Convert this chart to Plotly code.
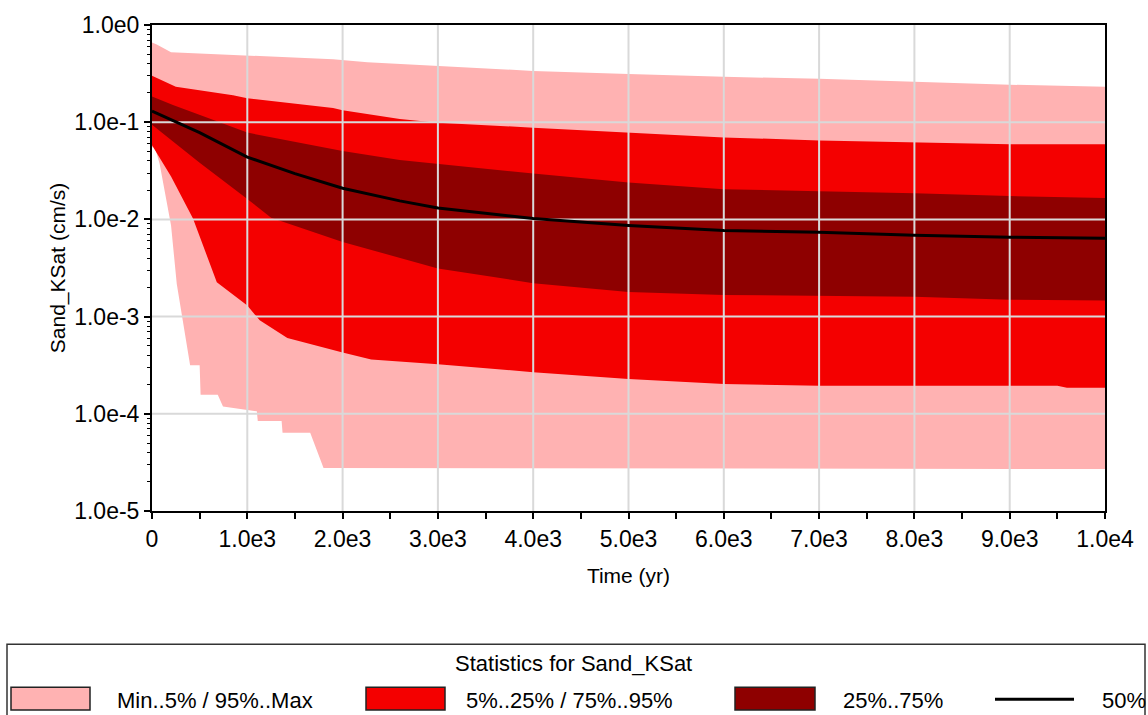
import numpy as np
import plotly.graph_objects as go

# ---------------- data ----------------
t_max = [0, 50, 200, 1100, 1900, 2260, 3000, 4000, 5000, 6000, 7000, 8000, 9000, 10000]
v_max = [0.659, 0.629, 0.523, 0.477, 0.445, 0.415, 0.378, 0.337, 0.314, 0.293, 0.280, 0.261, 0.243, 0.232]

t_p95 = [0, 250, 850, 1000, 1900, 2000, 2600, 3000, 4000, 5000, 6000, 7000, 8000, 9000, 10000]
v_p95 = [0.300, 0.232, 0.189, 0.176, 0.140, 0.133, 0.108, 0.0986, 0.0879, 0.0782, 0.0697, 0.0650, 0.0621, 0.0593, 0.0593]

t_p75 = [0, 220, 1000, 2000, 2600, 3000, 4000, 5000, 6000, 7000, 8000, 9000, 10000]
v_p75 = [0.184, 0.150, 0.0782, 0.0504, 0.0409, 0.0373, 0.0296, 0.0240, 0.0204, 0.0195, 0.0186, 0.0174, 0.0166]

t_p50 = [0, 500, 1000, 1500, 2000, 2600, 3000, 4000, 5000, 6000, 7000, 8000, 9000, 10000]
v_p50 = [0.130, 0.078, 0.0438, 0.0296, 0.0209, 0.0155, 0.0131, 0.0102, 0.00866, 0.00771, 0.00736, 0.00687, 0.00656, 0.00641]

t_p25 = [0, 500, 1000, 1250, 2000, 2600, 3000, 4000, 5000, 6000, 7000, 8000, 9000, 10000]
v_p25 = [0.094, 0.0382, 0.0162, 0.0104, 0.00585, 0.00400, 0.00313, 0.00221, 0.00179, 0.00167, 0.00163, 0.00160, 0.00149, 0.00146]

t_p5 = [0, 200, 430, 500, 680, 1000, 1130, 1420, 2000, 2300, 3000, 4000, 5000, 6000, 7000, 9500, 9600, 10000]
v_p5 = [0.0579, 0.0276, 0.0102, 0.00656, 0.00226, 0.00130, 0.000916, 0.000604, 0.000426, 0.000363,
        0.000323, 0.000268, 0.000228, 0.000203, 0.000194, 0.000194, 0.000185, 0.000185]

t_min = [0, 30, 80, 200, 260, 400, 500, 510, 690, 745, 1100, 1110, 1360, 1370, 1660, 1800, 10000]
v_min = [0.0553, 0.0553, 0.0373, 0.00867, 0.00216, 0.000315, 0.000315, 0.000157, 0.000157, 0.000119,
         0.000106, 8.43e-5, 8.43e-5, 6.38e-5, 6.38e-5, 2.77e-5, 2.70e-5]

x_tickvals = [0, 1000, 2000, 3000, 4000, 5000, 6000, 7000, 8000, 9000, 10000]
x_ticktext = ["0", "1.0e3", "2.0e3", "3.0e3", "4.0e3", "5.0e3", "6.0e3", "7.0e3", "8.0e3", "9.0e3", "1.0e4"]
y_tickvals = [1e-5, 1e-4, 1e-3, 1e-2, 1e-1, 1e0]
y_ticktext = ["1.0e-5", "1.0e-4", "1.0e-3", "1.0e-2", "1.0e-1", "1.0e0"]

legend_title = "Statistics for Sand_KSat"
legend_labels = ["Min..5% / 95%..Max", "5%..25% / 75%..95%", "25%..75%", "50%"]

# ---------------- styles ----------------
PINK = "#FFB2B2"
RED = "#F40000"
DARK = "#8E0000"
GRID = "#D9D9D9"
FONT = "Liberation Sans, Arial, sans-serif"
TICK_SIZE = 23
LEG_SIZE = 22
TITLE_SIZE = 21


def band(t_up, v_up, t_lo, v_lo, color, name):
    x = list(t_up) + list(t_lo)[::-1]
    y = list(v_up) + list(v_lo)[::-1]
    return go.Scatter(x=x, y=y, fill="toself", fillcolor=color, mode="lines",
                      line=dict(width=0, color=color), name=name, hoverinfo="skip",
                      showlegend=False)


fig = go.Figure()
fig.add_trace(band(t_max, v_max, t_min, v_min, PINK, legend_labels[0]))
fig.add_trace(band(t_p95, v_p95, t_p5, v_p5, RED, legend_labels[1]))
fig.add_trace(band(t_p75, v_p75, t_p25, v_p25, DARK, legend_labels[2]))

# grid lines drawn over the bands (as in the reference)
gx, gy = [], []
for xv in x_tickvals[1:-1]:
    gx += [xv, xv, None]
    gy += [y_tickvals[0], y_tickvals[-1], None]
for yv in y_tickvals[1:-1]:
    gx += [x_tickvals[0], x_tickvals[-1], None]
    gy += [yv, yv, None]
fig.add_trace(go.Scatter(x=gx, y=gy, mode="lines", line=dict(color=GRID, width=2),
                         hoverinfo="skip", showlegend=False))

fig.add_trace(go.Scatter(x=t_p50, y=v_p50, mode="lines", line=dict(color="black", width=3),
                         name=legend_labels[3], showlegend=False))

fig.update_layout(
    width=1148, height=715,
    margin=dict(l=152, r=43, t=15, b=204),
    paper_bgcolor="white", plot_bgcolor="white",
    font=dict(family=FONT, size=TITLE_SIZE, color="black"),
    showlegend=False,
)
fig.update_xaxes(
    range=[0, 10000], tickvals=x_tickvals, ticktext=x_ticktext,
    showgrid=False, zeroline=False,
    showline=True, linecolor="black", linewidth=2, mirror=True,
    ticks="outside", ticklen=6, tickwidth=1.5, tickcolor="black",
    minor=dict(dtick=500, ticks="outside", ticklen=6, tickwidth=1.5, tickcolor="black", showgrid=False),
    title=dict(text="Time (yr)", standoff=18, font=dict(size=TITLE_SIZE)),
    tickfont=dict(size=TICK_SIZE),
)
fig.update_yaxes(
    type="log", range=[-5, 0], tickvals=y_tickvals, ticktext=y_ticktext,
    showgrid=False, zeroline=False,
    showline=True, linecolor="black", linewidth=2, mirror=True,
    ticks="outside", ticklen=6, tickwidth=1.5, tickcolor="black",
    minor=dict(dtick="D1", ticks="outside", ticklen=3, tickwidth=1, tickcolor="black", showgrid=False),
    title=dict(text="Sand_KSat (cm/s)", standoff=3, font=dict(size=TITLE_SIZE)),
    tickfont=dict(size=TICK_SIZE),
)

# ---------------- manual legend box (below plot) ----------------
L, R, T, B = 152, 1105, 15, 511
W, H = R - L, B - T


def px(x):
    return (x - L) / W


def py(y):
    return (B - y) / H


shapes = [
    dict(type="rect", xref="paper", yref="paper", x0=px(7), x1=px(1145), y0=py(740), y1=py(647),
         line=dict(color="#333333", width=1.5), fillcolor="rgba(0,0,0,0)"),
]
sw = [(11, 90, PINK), (366, 445, RED), (735, 815, DARK)]
for x0, x1, c in sw:
    shapes.append(dict(type="rect", xref="paper", yref="paper", x0=px(x0), x1=px(x1),
                       y0=py(714), y1=py(691), fillcolor=c, line=dict(color="#222222", width=1.5)))
shapes.append(dict(type="line", xref="paper", yref="paper", x0=px(995), x1=px(1074),
                   y0=py(703), y1=py(703), line=dict(color="black", width=3)))
fig.update_layout(shapes=shapes)

ann = [dict(text=legend_title, x=px(573), y=py(667), xanchor="center", yanchor="middle")]
for xl, lab in zip([115, 464, 841, 1100], legend_labels):
    ann.append(dict(text=lab, x=px(xl), y=py(704), xanchor="left", yanchor="middle"))
for a in ann:
    a.update(xref="paper", yref="paper", showarrow=False, font=dict(size=LEG_SIZE, family=FONT))
fig.update_layout(annotations=ann)

fig.write_html("out.html")
